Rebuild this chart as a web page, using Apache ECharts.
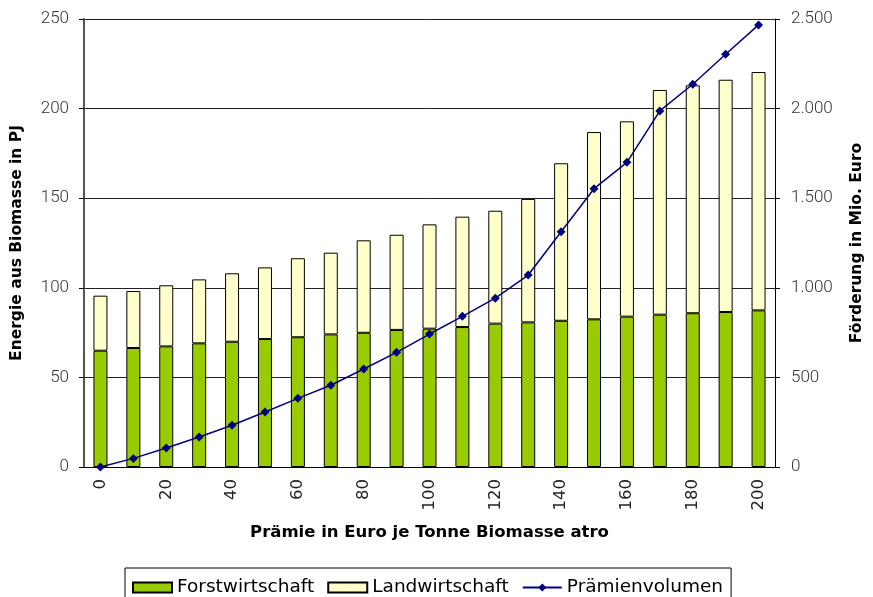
<!DOCTYPE html>
<html>
<head>
<meta charset="utf-8">
<script src="https://cdn.jsdelivr.net/npm/echarts@6/dist/echarts.min.js"></script>
<style>
  html, body { margin: 0; padding: 0; background: #fff; }
  #chart { width: 873px; height: 597px; }
</style>
</head>
<body>
<div id="chart"></div>
<script>
// Prämie in Euro je Tonne Biomasse atro
const praemie = ["0", "10", "20", "30", "40", "50", "60", "70", "80", "90", "100",
  "110", "120", "130", "140", "150", "160", "170", "180", "190", "200"];

// Energie in PJ (stacked)
const forst = [64.9, 66.4, 67.3, 69.0, 69.9, 71.4, 72.4, 74.0, 74.9, 76.5, 77.2,
  78.1, 80.0, 80.7, 81.6, 82.4, 83.9, 85.0, 85.8, 86.5, 87.4];
const land = [30.7, 31.8, 34.1, 35.7, 38.2, 40.0, 44.1, 45.6, 51.6, 53.1, 58.2,
  61.6, 63.0, 68.9, 87.9, 104.5, 109.0, 125.4, 127.2, 129.6, 133.0];

// Förderung in Mio. Euro
const volumen = [0, 48, 106, 167, 233, 307, 383, 456, 547, 640, 742,
  841, 942, 1071, 1313, 1553, 1700, 1987, 2136, 2303, 2467];

const chart = echarts.init(document.getElementById("chart"));

const tickFont = { fontFamily: "Roboto", fontWeight: 300, fontSize: 17, color: "#333" };
const nameFont = { fontFamily: "DejaVu Sans", fontWeight: "bold", fontSize: 15.5, color: "#000" };

const option = {
  animation: false,
  grid: { left: 84, right: 95, top: 19, bottom: 130 },
  legend: {
    left: 125,
    top: 568,
    itemWidth: 39,
    itemHeight: 10,
    itemGap: 13,
    padding: [10, 8, 10, 7],
    borderColor: "#000",
    borderWidth: 1,
    textStyle: { fontFamily: "DejaVu Sans", fontSize: 18.5, color: "#000" },
    data: [
      { name: "Forstwirtschaft", icon: "rect" },
      { name: "Landwirtschaft", icon: "rect" },
      { name: "Prämienvolumen" }
    ]
  },
  xAxis: {
    type: "category",
    data: praemie,
    name: "Prämie in Euro je Tonne Biomasse atro",
    nameLocation: "middle",
    nameGap: 57,
    nameTextStyle: Object.assign({}, nameFont, { fontSize: 16.5 }),
    axisLine: { lineStyle: { color: "#000" } },
    axisTick: { interval: 0, length: 5, lineStyle: { color: "#000" } },
    axisLabel: { rotate: 90, interval: 1, margin: 12, fontFamily: "DejaVu Sans", fontSize: 16.5, color: "#222" }
  },
  yAxis: [
    {
      type: "value",
      min: 0,
      max: 250,
      interval: 50,
      name: "Energie aus Biomasse in PJ",
      nameLocation: "middle",
      nameGap: 59,
      nameTextStyle: nameFont,
      axisLine: { show: true, lineStyle: { color: "#555", width: 2 } },
      axisTick: { show: true, length: 5, lineStyle: { color: "#000" } },
      axisLabel: Object.assign({}, tickFont, { margin: 15 }),
      splitLine: { lineStyle: { color: "#222", width: 1 } }
    },
    {
      type: "value",
      min: 0,
      max: 2500,
      interval: 500,
      name: "Förderung in Mio. Euro",
      nameLocation: "middle",
      nameGap: 74,
      nameRotate: 90,
      nameTextStyle: Object.assign({}, nameFont, { padding: [0, 0, 0, 0] }),
      axisLine: { show: true, lineStyle: { color: "#000", width: 1 } },
      axisTick: { show: true, length: 5, lineStyle: { color: "#000" } },
      axisLabel: Object.assign({}, tickFont, {
        margin: 16,
        formatter: v => String(v).replace(/\B(?=(\d{3})+(?!\d))/g, ".")
      }),
      splitLine: { show: false }
    }
  ],
  series: [
    {
      name: "Forstwirtschaft",
      type: "bar",
      stack: "energie",
      barWidth: 14,
      data: forst,
      itemStyle: { color: "#99CC00", borderColor: "#000", borderWidth: 1 }
    },
    {
      name: "Landwirtschaft",
      type: "bar",
      stack: "energie",
      barWidth: 14,
      data: land,
      itemStyle: { color: "#FFFFCC", borderColor: "#000", borderWidth: 1 }
    },
    {
      name: "Prämienvolumen",
      type: "line",
      yAxisIndex: 1,
      data: volumen,
      symbol: "diamond",
      symbolSize: 9,
      lineStyle: { color: "#000080", width: 1.5 },
      itemStyle: { color: "#000080" },
      z: 5
    }
  ]
};

chart.setOption(option);

window.addEventListener("resize", () => {
  chart.resize();
});
</script>
</body>
</html>
